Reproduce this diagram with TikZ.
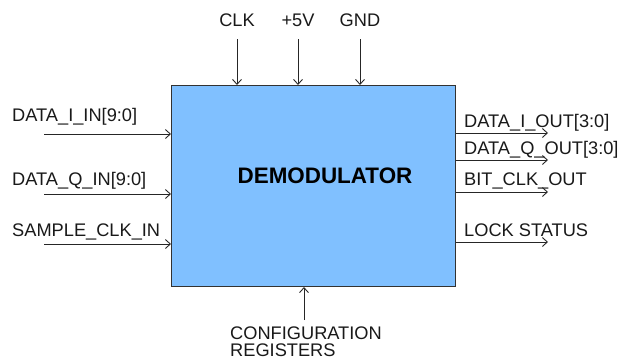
\documentclass[tikz,border=0pt]{standalone}
\usepackage{fontspec}
\setmainfont{Liberation Sans}
\usetikzlibrary{arrows.meta}
\definecolor{boxblue}{RGB}{128,192,255}
\definecolor{boxline}{RGB}{50,50,50}
\tikzset{
  lbl/.style={inner sep=0pt, font=\fontsize{18.3}{21}\selectfont, text=black!90},
  sig/.style={line width=0.9pt, draw=black!85, -{Straight Barb[length=5pt,width=9pt,line width=0.9pt]}},
}
\begin{document}
\begin{tikzpicture}[x=1bp,y=-1bp]
\useasboundingbox (0,0) rectangle (626,360);
% main block
\node[draw=boxline, line width=1pt, fill=boxblue, minimum width=284bp, minimum height=201bp, inner sep=0pt, anchor=north west] (demod) at (171,85) {};
\node[inner sep=0pt, anchor=base, font=\fontsize{22.5}{26}\selectfont\bfseries] (title) at (325,183) {DEMODULATOR};
% top
\node[lbl, anchor=base] (clk) at (237,26) {CLK};
\node[lbl, anchor=base] (vcc) at (298,26) {+5V};
\node[lbl, anchor=base] (gnd) at (360,26) {GND};
\coordinate (clkt) at (237,39);
\coordinate (vcct) at (298,39);
\coordinate (gndt) at (360,39);
\draw[sig] (clkt) -- (clkt |- demod.north);
\draw[sig] (vcct) -- (vcct |- demod.north);
\draw[sig] (gndt) -- (gndt |- demod.north);
% left
\node[lbl, anchor=base west] (iin) at (12,121) {DATA\_I\_IN[9:0]};
\node[lbl, anchor=base west] (qin) at (12,185) {DATA\_Q\_IN[9:0]};
\node[lbl, anchor=base west] (sin) at (12,236) {SAMPLE\_CLK\_IN};
\coordinate (iinL) at (44,134);
\coordinate (qinL) at (44,194);
\coordinate (sinL) at (44,244);
\draw[sig] (iinL) -- (iinL -| demod.west);
\draw[sig] (qinL) -- (qinL -| demod.west);
\draw[sig] (sinL) -- (sinL -| demod.west);
% right
\node[lbl, anchor=base west] (iout) at (464,127) {DATA\_I\_OUT[3:0]};
\node[lbl, anchor=base west] (qout) at (464,154) {DATA\_Q\_OUT[3:0]};
\node[lbl, anchor=base west] (bout) at (464,185) {BIT\_CLK\_OUT};
\node[lbl, anchor=base west] (lout) at (464,236) {LOCK STATUS};
\coordinate (ioutR) at (548,133);
\coordinate (qoutR) at (548,160);
\coordinate (boutR) at (548,192);
\coordinate (loutR) at (548,242);
\draw[sig] (ioutR -| demod.east) -- (ioutR);
\draw[sig] (qoutR -| demod.east) -- (qoutR);
\draw[sig] (boutR -| demod.east) -- (boutR);
\draw[sig] (loutR -| demod.east) -- (loutR);
% bottom
\node[lbl, anchor=base west] (cfg1) at (230,339) {CONFIGURATION};
\node[lbl, anchor=base west] (cfg2) at (230,356.5) {REGISTERS};
\coordinate (cfgB) at (304,320);
\draw[sig] (cfgB) -- (cfgB |- demod.south);
\end{tikzpicture}
\end{document}
